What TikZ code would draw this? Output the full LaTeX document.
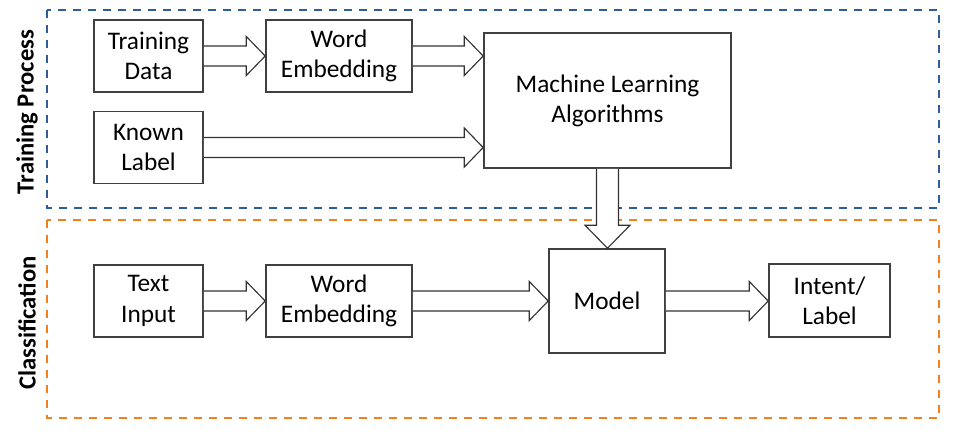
\documentclass[tikz,border=0pt]{standalone}
\usepackage{fontspec}
\setmainfont{Carlito}
\usepackage{tikz}
\usetikzlibrary{calc}
\definecolor{trainblue}{RGB}{46,94,152}
\definecolor{classorange}{RGB}{241,128,32}
\tikzstyle{box}=[rectangle, draw=black!75, line width=1.1pt, fill=white, align=center, font=\fontsize{18}{21.5}\selectfont]
\tikzstyle{small}=[box, minimum width=2.725cm, minimum height=1.8cm]
\tikzstyle{emb}=[box, minimum width=3.65cm, minimum height=1.8cm]
\tikzstyle{phase}=[dashed, dash pattern=on 0.2cm off 0.175cm, line width=1.8pt]
\tikzstyle{side}=[rotate=90, font=\fontsize{17.5}{20}\selectfont\bfseries]
\tikzstyle{fat}=[draw=black!80, line width=0.8pt, fill=white, line join=miter]
\newcommand{\fatright}[2]{%
	\draw[fat] let \p1=(#1.east), \p2=(#2.west) in
		(\x1,\y1+0.25cm) -- (\x2-0.475cm,\y1+0.25cm) -- (\x2-0.475cm,\y1+0.49cm)
		-- (\x2,\y1) -- (\x2-0.475cm,\y1-0.49cm) -- (\x2-0.475cm,\y1-0.25cm) -- (\x1,\y1-0.25cm);}
\newcommand{\fatdown}[2]{%
	\draw[fat] let \p1=(#1.south), \p2=(#2.north) in
		(\x1-0.275cm,\y1) -- (\x1-0.275cm,\y2+0.575cm) -- (\x1-0.5625cm,\y2+0.575cm)
		-- (\x1,\y2) -- (\x1+0.5625cm,\y2+0.575cm) -- (\x1+0.275cm,\y2+0.575cm) -- (\x1+0.275cm,\y1);}
\begin{document}
\begin{tikzpicture}[x=0.025cm, y=-0.025cm]
				\useasboundingbox (0,0) rectangle (962,437);
				
				%The two phases
				\draw[phase, draw=trainblue] (47,10) rectangle (939,208);
				\draw[phase, draw=classorange] (47,220) rectangle (939,418);
				\draw (27,112) node[side] (trainlbl) {Training Process};
				\draw (27,323) node[side] (classlbl) {Classification};
				
				%Training
				\draw (148.5,56) node[small] (tdata) {Training\\Data};
				\draw (339,56) node[emb] (temb) {Word\\Embedding};
				\draw (148.5,147.5) node[small] (known) {Known\\Label};
				\draw (607.5,100.5) node[box, minimum width=6.175cm, minimum height=3.375cm] (mla) {Machine Learning\\Algorithms};
				
				%Classification
				\draw (148.5,301) node[small] (text) {Text\\Input};
				\draw (339,301) node[emb] (cemb) {Word\\Embedding};
				\draw (607,301) node[box, minimum width=2.9cm, minimum height=2.6cm] (model) {Model};
				\draw (829.5,300.5) node[box, minimum width=3.025cm, minimum height=1.825cm] (intent) {Intent/\\Label};
				
				\fatright{tdata}{temb}
				\fatright{temb}{mla}
				\fatright{known}{mla}
				\fatdown{mla}{model}
				\fatright{text}{cemb}
				\fatright{cemb}{model}
				\fatright{model}{intent}
			\end{tikzpicture}
\end{document}
